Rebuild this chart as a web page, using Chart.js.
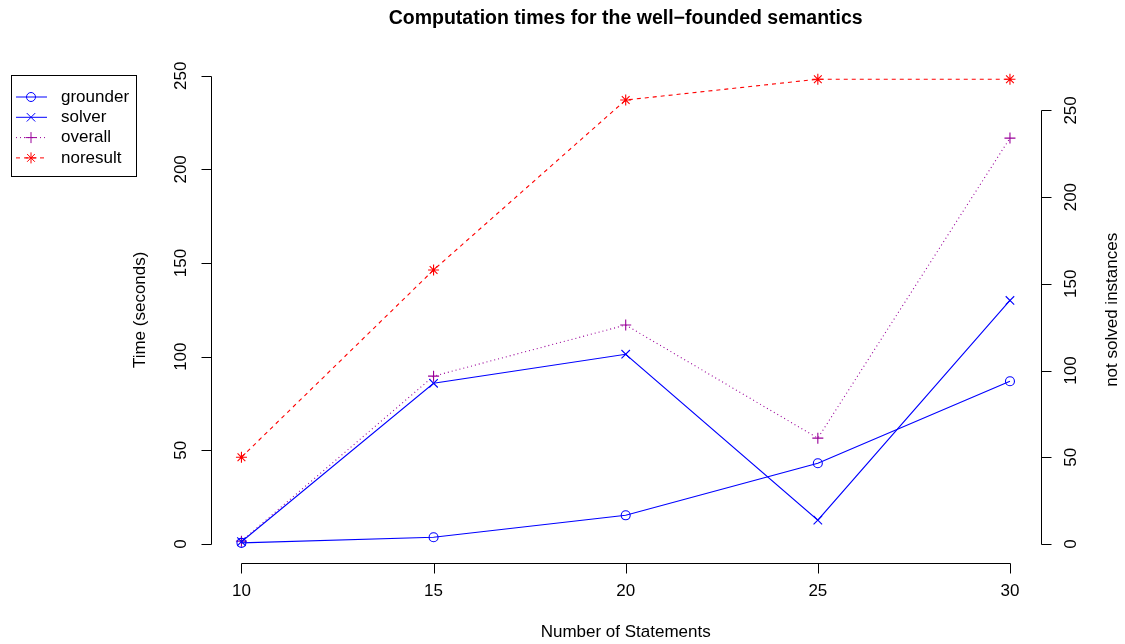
<!DOCTYPE html>
<html>
<head>
<meta charset="utf-8">
<script src="https://cdn.jsdelivr.net/npm/chart.js@4/dist/chart.umd.min.js"></script>
<style>
  html, body { margin: 0; padding: 0; background: #fff; }
</style>
</head>
<body>
<canvas id="timesChart" width="1125" height="644"></canvas>
<script>
// number of statements per instance
const statements = [10, 15, 20, 25, 30];
// mean times in seconds
const grounder = [0.6, 3.6, 15.3, 43.1, 86.9];
const solver = [1.2, 85.8, 101.3, 12.7, 130.0];
const overall = [1.5, 89.6, 116.9, 56.5, 216.7];
// instances without a result (right axis)
const noresult = [50, 158, 256, 268, 268];

const xTicks = [10, 15, 20, 25, 30];
const timeTicks = [0, 50, 100, 150, 200, 250];
const countTicks = [0, 50, 100, 150, 200, 250];

const FONT = '"Liberation Sans", Arial, Helvetica, sans-serif';
const BLUE = '#0000ff';
const PURPLE = '#990099';
const RED = '#ff0000';

function pts(ys) {
    return statements.map((s, i) => ({ x: s, y: ys[i] }));
}

// R-style range: limits plus 4% on each side
function padRange(lo, hi) {
    let d = (hi - lo) * 0.04;
    return { min: lo - d, max: hi + d };
}

const xRange = padRange(10, 30);
const timeRange = padRange(0, 250);
const countRange = padRange(0, 270);

// axes, titles and legend drawn the way base R graphics does
const rStyle = {
    id: 'rStyle',
    afterDraw(chart) {
        const ctx = chart.ctx;
        const { left, right, top, bottom } = chart.chartArea;
        const sx = chart.scales.x, yl = chart.scales.y, yr = chart.scales.y2;
        ctx.save();
        ctx.strokeStyle = '#000';
        ctx.fillStyle = '#000';
        ctx.lineWidth = 1;
        ctx.setLineDash([]);

        // bottom axis
        let by = Math.round(bottom) + 0.5;
        ctx.beginPath();
        ctx.moveTo(Math.round(sx.getPixelForValue(xTicks[0])) + 0.5, by);
        ctx.lineTo(Math.round(sx.getPixelForValue(xTicks[xTicks.length - 1])) + 0.5, by);
        xTicks.forEach(v => {
            let px = Math.round(sx.getPixelForValue(v)) + 0.5;
            ctx.moveTo(px, by);
            ctx.lineTo(px, by + 10);
        });
        ctx.stroke();
        ctx.font = '17px ' + FONT;
        ctx.textAlign = 'center';
        ctx.textBaseline = 'middle';
        xTicks.forEach(v => ctx.fillText(String(v), sx.getPixelForValue(v), bottom + 29));

        // left and right axes
        function yAxis(scale, ticks, ax, dir) {
            ctx.beginPath();
            ctx.moveTo(ax, Math.round(scale.getPixelForValue(ticks[0])) + 0.5);
            ctx.lineTo(ax, Math.round(scale.getPixelForValue(ticks[ticks.length - 1])) + 0.5);
            ticks.forEach(v => {
                let py = Math.round(scale.getPixelForValue(v)) + 0.5;
                ctx.moveTo(ax, py);
                ctx.lineTo(ax + dir * 10, py);
            });
            ctx.stroke();
            ticks.forEach(v => {
                ctx.save();
                ctx.translate(ax + dir * 30, scale.getPixelForValue(v));
                ctx.rotate(-Math.PI / 2);
                ctx.fillText(String(v), 0, 0);
                ctx.restore();
            });
        }
        yAxis(yl, timeTicks, Math.round(left) + 0.5, -1);
        yAxis(yr, countTicks, Math.round(right) + 0.5, 1);

        // axis titles
        let midX = (left + right) / 2, midY = (top + bottom) / 2;
        ctx.fillText('Number of Statements', midX, bottom + 70);
        ctx.save();
        ctx.translate(left - 70, midY);
        ctx.rotate(-Math.PI / 2);
        ctx.fillText('Time (seconds)', 0, 0);
        ctx.restore();
        ctx.save();
        ctx.translate(right + 72, midY);
        ctx.rotate(-Math.PI / 2);
        ctx.fillText('not solved instances', 0, 0);
        ctx.restore();

        // main title
        ctx.font = 'bold 19.5px ' + FONT;
        ctx.fillText('Computation times for the well\u2212founded semantics', midX, 18.5);

        // legend box
        ctx.strokeRect(11.5, 75.5, 125, 101);
        ctx.font = '17px ' + FONT;
        ctx.textAlign = 'left';
        chart.data.datasets.forEach((ds, i) => {
            let ly = 97 + i * 20.3;
            ctx.strokeStyle = ds.borderColor;
            ctx.setLineDash(ds.borderDash || []);
            ctx.beginPath();
            ctx.moveTo(16, ly);
            ctx.lineTo(47, ly);
            ctx.stroke();
            ctx.setLineDash([]);
            ctx.fillStyle = 'rgba(0,0,0,0)';
            Chart.helpers.drawPoint(ctx, {
                pointStyle: ds.pointStyle,
                radius: ds.pointRadius,
                rotation: 0,
                borderWidth: 1
            }, 31, ly);
            ctx.fillStyle = '#000';
            ctx.fillText(ds.label, 61, ly);
        });
        ctx.restore();
    }
};

function series(label, ys, color, style, radius, dash, axis) {
    return {
        label: label,
        data: pts(ys),
        yAxisID: axis,
        borderColor: color,
        borderWidth: 1.1,
        borderDash: dash,
        backgroundColor: 'rgba(0,0,0,0)',
        pointStyle: style,
        pointRadius: radius,
        pointBorderWidth: 1.1,
        pointBorderColor: color,
        pointBackgroundColor: 'rgba(0,0,0,0)',
        tension: 0,
        fill: false
    };
}

new Chart(document.getElementById('timesChart').getContext('2d'), {
    type: 'line',
    data: {
        datasets: [
            series('grounder', grounder, BLUE, 'circle', 4.5, [], 'y'),
            series('solver', solver, BLUE, 'crossRot', 6, [], 'y'),
            series('overall', overall, PURPLE, 'cross', 5.5, [1, 3], 'y'),
            series('noresult', noresult, RED, 'star', 5.5, [4, 4], 'y2')
        ]
    },
    options: {
        responsive: false,
        animation: false,
        devicePixelRatio: 1,
        layout: { padding: { left: 210.7, right: 84.3, top: 57, bottom: 81.3 } },
        plugins: { legend: { display: false }, title: { display: false }, tooltip: { enabled: false } },
        scales: {
            x: { type: 'linear', display: false, min: xRange.min, max: xRange.max },
            y: { type: 'linear', display: false, min: timeRange.min, max: timeRange.max },
            y2: { type: 'linear', display: false, min: countRange.min, max: countRange.max }
        }
    },
    plugins: [rStyle]
});
</script>
</body>
</html>
